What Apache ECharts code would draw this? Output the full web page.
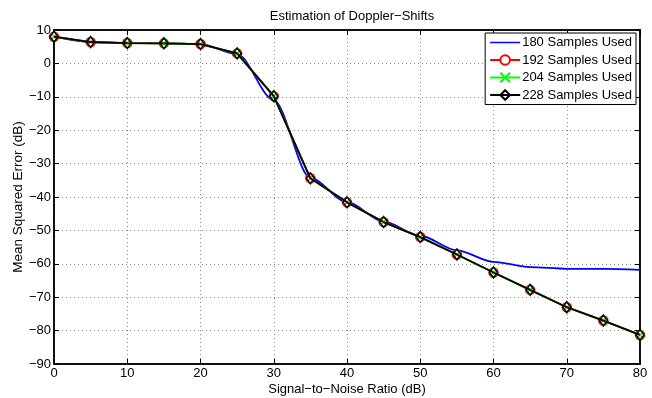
<!DOCTYPE html>
<html><head><meta charset="utf-8">
<script src="https://cdn.jsdelivr.net/npm/echarts@6/dist/echarts.min.js"></script>
<style>html,body{margin:0;padding:0;background:#fff}#c{width:652px;height:398px}</style>
</head><body><div id="c"></div>
<script>
const snr = [0,5,10,15,20,25,30,35,40,45,50,55,60,65,70,75,80];
const mse180 = [8.0,6.4,6.1,6.0,5.8,2.8,-11.0,-34.3,-41.5,-47.4,-51.6,-56.0,-59.4,-61.0,-61.5,-61.5,-61.8];
const mse192 = [8.0,6.4,6.1,6.0,5.8,3.0,-9.8,-34.4,-41.6,-47.5,-52.0,-57.2,-62.6,-67.8,-73.0,-77.0,-81.3];
const mse204 = [8.0,6.4,6.1,6.0,5.8,3.0,-9.8,-34.4,-41.6,-47.5,-52.0,-57.2,-62.6,-67.8,-73.0,-77.0,-81.3];
const mse228 = [8.0,6.4,6.1,6.0,5.8,3.0,-9.8,-34.4,-41.6,-47.5,-52.0,-57.2,-62.6,-67.8,-73.0,-77.0,-81.3];
const seriesNames = ['180 Samples Used','192 Samples Used','204 Samples Used','228 Samples Used'];

const font = 'Liberation Sans, Arial, Helvetica, sans-serif';
const pair = arr => snr.map((x,i)=>[x,arr[i]]);
const minus = v => String(v).replace('-', '\u2212');
const chart = echarts.init(document.getElementById('c'), null, {renderer:'canvas'});
chart.setOption({
  animation:false,
  backgroundColor:'#fff',
  textStyle:{fontFamily:font},
  title:{text:'Estimation of Doppler\u2212Shifts', left:347, textAlign:'center', top:5,
    textStyle:{fontSize:13, fontWeight:'normal', color:'#000', fontFamily:font}},
  grid:{left:54, right:12, top:30, bottom:34, containLabel:false, outerBoundsMode:'none',
    show:true, borderColor:'#000', borderWidth:1.5, backgroundColor:'#fff'},
  legend:{
    orient:'vertical', right:16, top:33, itemGap:4.5, itemWidth:30, itemHeight:12,
    padding:[3,4,3,4], borderColor:'#000', borderWidth:1, backgroundColor:'#fff',
    textStyle:{fontSize:13, color:'#000', fontFamily:font, padding:[0,0,0,-3]},
    data:[{name:seriesNames[0], icon:'path://M0,0H20V1H0Z'}, seriesNames[1], seriesNames[2], seriesNames[3]]
  },
  xAxis:[{
    type:'value', min:0, max:80, interval:10,
    name:'Signal\u2212to\u2212Noise Ratio (dB)', nameLocation:'middle', nameGap:19, nameMoveOverlap:false,
    nameTextStyle:{fontSize:13, color:'#000', fontFamily:font},
    axisLine:{show:true, onZero:false, lineStyle:{color:'#000', width:1.5}},
    axisTick:{show:true, inside:true, length:5, lineStyle:{color:'#000'}},
    axisLabel:{fontSize:13, color:'#000', margin:3, fontFamily:font, formatter:minus},
    splitLine:{show:true, lineStyle:{type:[1,3], color:'#888', width:1}}
  },{
    type:'value', min:0, max:80, interval:10, position:'top',
    axisLine:{show:true, onZero:false, lineStyle:{color:'#000', width:1.5}},
    axisTick:{show:true, inside:true, length:5, lineStyle:{color:'#000'}},
    axisLabel:{show:false}, splitLine:{show:false}
  }],
  yAxis:[{
    type:'value', min:-90, max:10, interval:10,
    name:'Mean Squared Error (dB)', nameLocation:'middle', nameGap:29, nameMoveOverlap:false,
    nameTextStyle:{fontSize:13.5, color:'#000', fontFamily:font},
    axisLine:{show:true, onZero:false, lineStyle:{color:'#000', width:1.5}},
    axisTick:{show:true, inside:true, length:5, lineStyle:{color:'#000'}},
    axisLabel:{fontSize:13, color:'#000', margin:3, fontFamily:font, formatter:minus},
    splitLine:{show:true, lineStyle:{type:[1,3], color:'#888', width:1}}
  },{
    type:'value', min:-90, max:10, interval:10, position:'right',
    axisLine:{show:true, onZero:false, lineStyle:{color:'#000', width:1.5}},
    axisTick:{show:true, inside:true, length:5, lineStyle:{color:'#000'}},
    axisLabel:{show:false}, splitLine:{show:false}
  }],
  series:[
    {name:seriesNames[0], type:'line', data:pair(mse180), smooth:0.3, smoothMonotone:'x', symbol:'none',
      lineStyle:{color:'#0000ff', width:1.8}, itemStyle:{color:'#0000ff'}, z:2},
    {name:seriesNames[1], type:'line', data:pair(mse192), symbol:'circle', symbolSize:9,
      lineStyle:{color:'#ff0000', width:1.8}, itemStyle:{color:'#fff', borderColor:'#ff0000', borderWidth:1.5}, z:3},
    {name:seriesNames[2], type:'line', data:pair(mse204),
      symbol:'path://M0,0L10,10M10,0L0,10', symbolSize:6,
      lineStyle:{color:'#00ff00', width:1.8}, itemStyle:{color:'#00ff00', borderColor:'#00ff00', borderWidth:1.5}, z:4},
    {name:seriesNames[3], type:'line', data:pair(mse228), symbol:'diamond', symbolSize:[8,11],
      lineStyle:{color:'#000', width:1.8}, itemStyle:{color:'rgba(0,0,0,0)', borderColor:'#000', borderWidth:1.5}, z:5}
  ]
});
</script></body></html>
